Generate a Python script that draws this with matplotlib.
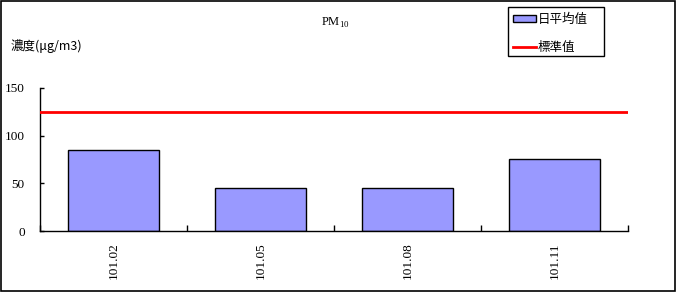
import matplotlib
matplotlib.use("Agg")
import matplotlib.pyplot as plt
from matplotlib.patches import Rectangle, Patch
from matplotlib.lines import Line2D
import numpy as np

categories = ["101.02", "101.05", "101.08", "101.11"]
daily_avg = [85, 45, 45, 76]
standard = 125
yticks = [0, 50, 100, 150]

serif = ["Liberation Serif", "Noto Sans CJK TC"]
cjk = ["Noto Sans CJK TC", "Liberation Serif"]

fig = plt.figure(figsize=(6.77, 2.93), dpi=100)
ax = fig.add_axes([40/677, 1-231/293, (628-40)/677, (231-88)/293])

x = np.arange(len(categories))
ax.bar(x, daily_avg, width=0.62, color="#9999FF", edgecolor="black", linewidth=1.0, zorder=2)
ax.axhline(standard, color="#FF0000", linewidth=2.0, zorder=3)

ax.set_xlim(-0.5, len(categories) - 0.5)
ax.set_ylim(0, 150)
ax.set_yticks(yticks)
ax.set_yticklabels([str(v) for v in yticks], fontfamily=serif, fontsize=9.5)
ax.tick_params(axis="y", direction="in", length=3, width=1, pad=11)

ax.set_xticks(np.arange(len(categories) + 1) - 0.5)
ax.set_xticklabels([])
ax.tick_params(axis="x", which="major", direction="in", length=4, width=1)
ax.set_xticks(x, minor=True)
ax.set_xticklabels(categories, minor=True, rotation=90, fontfamily=serif, fontsize=9.5)
ax.tick_params(axis="x", which="minor", length=0, pad=8)

for s in ["top", "right"]:
    ax.spines[s].set_visible(False)
for s in ["left", "bottom"]:
    ax.spines[s].set_linewidth(1.0)

fig.text(335/677, 1-23/293, r"PM$_{\mathregular{10}}$", ha="center", va="center",
         fontfamily=serif, fontsize=9)
fig.text(11/677, 1-46/293, "濃度(μg/m3)", ha="left", va="center",
         fontfamily=cjk, fontsize=9)

handles = [Patch(facecolor="#9999FF", edgecolor="black", linewidth=1.0),
           Line2D([0], [0], color="#FF0000", linewidth=2.0)]
leg = fig.legend(handles, ["日平均值", "標準值"], loc="upper left",
                 bbox_to_anchor=(508/677, 1-8/293), frameon=False,
                 prop={"family": cjk, "size": 9},
                 handlelength=1.8, handleheight=0.5, handletextpad=0.2,
                 labelspacing=1.2, borderpad=0.4, borderaxespad=0)

# legend frame
fig.patches.append(Rectangle((508/677, 1-56/293), 96/677, 49/293, transform=fig.transFigure,
                             fill=False, edgecolor="black", linewidth=1.0))

fig.patches.append(Rectangle((1/677, 2/293), 674/677, 290/293, transform=fig.transFigure,
                             fill=False, edgecolor="black", linewidth=1.2))

fig.savefig("out.png", dpi=100)
